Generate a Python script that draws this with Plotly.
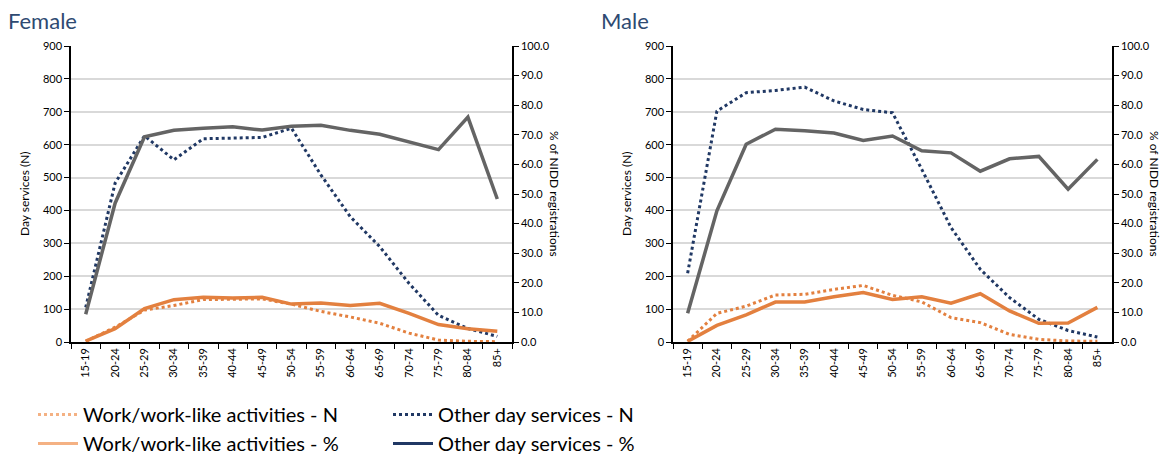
import plotly.graph_objects as go

W, H = 1163, 457

ages = ["15-19", "20-24", "25-29", "30-34", "35-39", "40-44", "45-49", "50-54",
        "55-59", "60-64", "65-69", "70-74", "75-79", "80-84", "85+"]

female_work_n = [2, 45, 97, 111, 129, 130, 131, 115, 93, 76, 57, 27, 6, 2, 1]
female_other_n = [105, 483, 627, 554, 618, 620, 622, 650, 508, 381, 290, 178, 81, 41, 17]
female_work_pct = [0.3, 4.5, 11.3, 14.3, 15.1, 14.9, 15.1, 12.8, 13.2, 12.3, 13.1, 9.7, 5.9, 4.5, 3.6]
female_other_pct = [9.4, 46.9, 69.3, 71.5, 72.2, 72.7, 71.6, 72.9, 73.2, 71.5, 70.2, 67.7, 65.0, 76.0, 48.3]

male_work_n = [2, 87, 109, 143, 145, 160, 172, 142, 122, 74, 59, 23, 8, 3, 2]
male_other_n = [209, 702, 758, 765, 775, 733, 707, 697, 525, 348, 221, 135, 69, 35, 15]
male_work_pct = [0.2, 5.6, 9.2, 13.5, 13.5, 15.3, 16.7, 14.4, 15.3, 13.1, 16.3, 10.5, 6.3, 6.4, 11.7]
male_other_pct = [9.7, 44.3, 66.8, 71.9, 71.4, 70.6, 68.1, 69.6, 64.6, 63.9, 57.7, 61.9, 62.7, 51.6, 61.7]

legend_names = ["Work/work-like activities - N", "Work/work-like activities - %",
                "Other day services - N", "Other day services - %"]

ORANGE = "#E3803F"
NAVY = "#203864"
GREY = "#646464"
LIGHT_ORANGE = "#F4B183"
FONT = "Lato, Open Sans, sans-serif"

fig = go.Figure()

panels = [
    ("x", "y", "y2", female_work_n, female_other_n, female_work_pct, female_other_pct),
    ("x2", "y3", "y4", male_work_n, male_other_n, male_work_pct, male_other_pct),
]
for xa, ya, ya2, wn, on, wp, op in panels:
    fig.add_trace(go.Scatter(x=ages, y=on, xaxis=xa, yaxis=ya, mode="lines",
                             line=dict(color=NAVY, dash="dot", width=3), showlegend=False))
    fig.add_trace(go.Scatter(x=ages, y=wn, xaxis=xa, yaxis=ya, mode="lines",
                             line=dict(color=ORANGE, dash="dot", width=3), showlegend=False))
    fig.add_trace(go.Scatter(x=ages, y=op, xaxis=xa, yaxis=ya2, mode="lines",
                             line=dict(color=GREY, width=3.5), showlegend=False))
    fig.add_trace(go.Scatter(x=ages, y=wp, xaxis=xa, yaxis=ya2, mode="lines",
                             line=dict(color=ORANGE, width=3.5), showlegend=False))

# legend-only entries
leg_styles = [
    (legend_names[0], LIGHT_ORANGE, "dot", "legend"),
    (legend_names[1], LIGHT_ORANGE, "solid", "legend"),
    (legend_names[2], NAVY, "dot", "legend2"),
    (legend_names[3], NAVY, "solid", "legend2"),
]
for name, col, dash, lg in leg_styles:
    fig.add_trace(go.Scatter(x=[None], y=[None], xaxis="x", yaxis="y", mode="lines", name=name,
                             line=dict(color=col, dash=dash, width=3), legend=lg))

def px_x(p):
    return p / W

def px_y(p):
    return 1 - p / H

ydom = [px_y(342), px_y(46)]
xdom1 = [px_x(71), px_x(512)]
xdom2 = [px_x(673), px_x(1112)]

tickfont = dict(family=FONT, size=11, color="#000000")

def xaxis(dom, anchor):
    return dict(domain=dom, anchor=anchor, type="category", range=[-0.5, 14.5],
                tickangle=-90, tickson="boundaries", ticks="outside", ticklen=5,
                tickcolor="black", showline=True, linecolor="black", linewidth=1.5,
                showgrid=False, tickfont=tickfont, fixedrange=True, automargin=False)

def yaxis(anchor):
    return dict(domain=ydom, anchor=anchor, range=[0, 900], dtick=100, showgrid=True,
                gridcolor="#D9D9D9", gridwidth=2, showline=True, linecolor="black",
                linewidth=1.5, ticks="outside", ticklen=5, tickcolor="black",
                tickfont=tickfont, zeroline=False, automargin=False, fixedrange=True)

def yaxis_r(overlay, anchor):
    return dict(overlaying=overlay, anchor=anchor, side="right", range=[0, 100], dtick=10,
                tickformat=".1f", showgrid=False, showline=True, linecolor="black",
                linewidth=1.5, ticks="outside", ticklen=5, tickcolor="black",
                tickfont=tickfont, zeroline=False, automargin=False, fixedrange=True)

def ann(text, x, y, size, color="#000", angle=0, xanchor="center"):
    return dict(text=text, x=px_x(x), y=px_y(y), xref="paper", yref="paper",
                xanchor=xanchor, yanchor="middle", showarrow=False, textangle=angle,
                font=dict(family=FONT, size=size, color=color))

leg_common = dict(xanchor="left", yanchor="top", orientation="v",
                  font=dict(family=FONT, size=20, color="#000"),
                  bgcolor="rgba(0,0,0,0)", itemwidth=40, tracegroupgap=4)

fig.update_layout(
    width=W, height=H,
    margin=dict(l=0, r=0, t=0, b=0, autoexpand=False),
    paper_bgcolor="white", plot_bgcolor="white",
    font=dict(family=FONT, color="#000"),
    xaxis=xaxis(xdom1, "y"),
    yaxis=yaxis("x"),
    yaxis2=yaxis_r("y", "x"),
    xaxis2=xaxis(xdom2, "y3"),
    yaxis3=yaxis("x2"),
    yaxis4=yaxis_r("y3", "x2"),
    legend=dict(x=px_x(33), y=px_y(395), **leg_common),
    legend2=dict(x=px_x(388), y=px_y(395), **leg_common),
    annotations=[
        ann("Female", 6, 20, 22, "#2E4A72", xanchor="left"),
        ann("Male", 599, 20, 22, "#2E4A72", xanchor="left"),
        ann("Day services (N)", 24, 194, 12, angle=-90),
        ann("Day services (N)", 626, 194, 12, angle=-90),
        ann("% of NIDD registrations", 555, 194, 12, angle=90),
        ann("% of NIDD registrations", 1155, 194, 12, angle=90),
    ],
)

fig.write_html("out.html", config={"displayModeBar": False},
               post_script="document.body.style.margin='0';")
